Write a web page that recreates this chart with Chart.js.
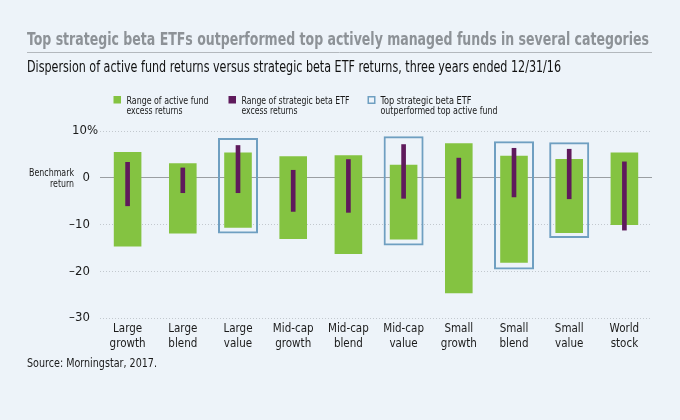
<!DOCTYPE html>
<html>
<head>
<meta charset="utf-8">
<script src="https://cdn.jsdelivr.net/npm/chart.js@4"></script>
<style>
  body { margin: 0; background: #edf3f9; }
  canvas { display: block; }
</style>
</head>
<body>
<canvas id="chart" width="680" height="420"></canvas>
<script>
const categories = [
  ["Large", "growth"], ["Large", "blend"], ["Large", "value"],
  ["Mid-cap", "growth"], ["Mid-cap", "blend"], ["Mid-cap", "value"],
  ["Small", "growth"], ["Small", "blend"], ["Small", "value"],
  ["World", "stock"],
];
// range of active fund excess returns (%)
const activeLow = [-14.7, -11.9, -10.7, -13.1, -16.3, -13.2, -24.7, -18.2, -11.8, -10.1];
const activeHigh = [5.5, 3.1, 5.4, 4.6, 4.8, 2.8, 7.4, 4.7, 4.0, 5.4];
// range of strategic beta ETF excess returns (%)
const etfLow = [-6.0, -3.2, -3.2, -7.2, -7.4, -4.4, -4.4, -4.1, -4.5, -11.2];
const etfHigh = [3.3, 2.1, 6.9, 1.6, 3.9, 7.1, 4.2, 6.3, 6.1, 3.4];
// highlight boxes: top strategic beta ETF beat top active fund
const boxLow = [null, null, -11.9, null, null, -14.5, null, -19.6, -12.9, null];
const boxHigh = [null, null, 8.5, null, null, 8.9, null, 7.8, 7.6, null];
const yTicks = [10, 0, -10, -20, -30];

const GREEN = "#84c341";
const PURPLE = "#5f1a5c";
const BOX = "#6f9fc1";
const FONT = "'Liberation Sans Narrow', 'DejaVu Sans Condensed', 'Liberation Sans', sans-serif";

const pairs = (lo, hi) => lo.map((v, i) => (v === null ? null : [v, hi[i]]));

// draw text squeezed to a given width (fonts here are wider than the original)
function fitText(ctx, text, x, y, width) {
  const w = ctx.measureText(text).width;
  const sx = Math.min(1, width / w);
  ctx.save();
  ctx.translate(x, y);
  ctx.scale(sx, 1);
  ctx.fillText(text, 0, 0);
  ctx.restore();
}

const textPlugin = {
  id: "texts",
  afterDraw: (chart) => {
    const ctx = chart.ctx;
    ctx.save();
    ctx.textBaseline = "alphabetic";
    ctx.textAlign = "left";

    // title + rule
    ctx.fillStyle = "#8d9297";
    ctx.font = "bold 17px " + FONT;
    fitText(ctx, "Top strategic beta ETFs outperformed top actively managed funds in several categories", 27, 45, 622);
    ctx.strokeStyle = "#b3b8bd";
    ctx.lineWidth = 1;
    ctx.beginPath();
    ctx.moveTo(27, 52.5);
    ctx.lineTo(652, 52.5);
    ctx.stroke();

    // subtitle
    ctx.fillStyle = "#111";
    ctx.font = "15px " + FONT;
    fitText(ctx, "Dispersion of active fund returns versus strategic beta ETF returns, three years ended 12/31/16", 27, 72, 534);

    // legend
    ctx.font = "10.5px " + FONT;
    const items = [
      { x: 113.5, kind: "fill", color: GREEN, lines: ["Range of active fund", "excess returns"], w: [82, 56] },
      { x: 228.5, kind: "fill", color: PURPLE, lines: ["Range of strategic beta ETF", "excess returns"], w: [108, 56] },
      { x: 367.5, kind: "box", color: BOX, lines: ["Top strategic beta ETF", "outperformed top active fund"], w: [91, 117] },
    ];
    items.forEach((it) => {
      if (it.kind === "fill") {
        ctx.fillStyle = it.color;
        ctx.fillRect(it.x, 96, 7.5, 7.5);
      } else {
        ctx.strokeStyle = it.color;
        ctx.lineWidth = 1.5;
        ctx.strokeRect(it.x + 0.75, 96.75, 6.5, 6.5);
      }
      ctx.fillStyle = "#1a1a1a";
      fitText(ctx, it.lines[0], it.x + 13, 103.5, it.w[0]);
      fitText(ctx, it.lines[1], it.x + 13, 114, it.w[1]);
    });

    // benchmark label next to the zero line
    const y0 = chart.scales.y.getPixelForValue(0);
    ctx.font = "10.5px " + FONT;
    fitText(ctx, "Benchmark", 29, y0 - 1.5, 45);
    ctx.textAlign = "right";
    fitText(ctx, "return", 74, y0 + 9, 24);

    // source
    ctx.textAlign = "left";
    ctx.font = "12px " + FONT;
    fitText(ctx, "Source: Morningstar, 2017.", 27, 367, 130);
    ctx.restore();
  },
};

new Chart(document.getElementById("chart"), {
  type: "bar",
  data: {
    labels: categories,
    datasets: [
      {
        label: "Top strategic beta ETF outperformed top active fund",
        data: pairs(boxLow, boxHigh),
        backgroundColor: "rgba(0,0,0,0)",
        borderColor: BOX,
        borderWidth: 2,
        borderSkipped: false,
        barPercentage: 0.725,
        categoryPercentage: 1,
        grouped: false,
        order: 3,
      },
      {
        label: "Range of active fund excess returns",
        data: pairs(activeLow, activeHigh),
        backgroundColor: GREEN,
        borderWidth: 0,
        barPercentage: 0.5,
        categoryPercentage: 1,
        grouped: false,
        order: 2,
      },
      {
        label: "Range of strategic beta ETF excess returns",
        data: pairs(etfLow, etfHigh),
        backgroundColor: PURPLE,
        borderWidth: 0,
        barThickness: 4,
        grouped: false,
        order: 1,
      },
    ],
  },
  options: {
    responsive: false,
    animation: false,
    layout: { padding: { top: 131, right: 28, bottom: 57, left: 0 } },
    plugins: {
      legend: { display: false },
      tooltip: { enabled: false },
    },
    scales: {
      x: {
        grid: { display: false },
        border: { display: false },
        ticks: {
          color: "#1a1a1a",
          font: { family: FONT, size: 11.5, lineHeight: 1.26 },
          padding: -4,
          maxRotation: 0,
          autoSkip: false,
        },
        afterFit: (scale) => { scale.height = 45; },
      },
      y: {
        min: -30,
        max: 10,
        afterBuildTicks: (scale) => { scale.ticks = yTicks.map((v) => ({ value: v })); },
        grid: {
          drawTicks: false,
          tickLength: 0,
          color: (c) => (c.tick && c.tick.value === 0 ? "#9a9ea2" : "#c2c8ce"),
          lineWidth: 1,
        },
        border: {
          display: false,
          dash: (c) => (c.tick && c.tick.value === 0 ? [] : [1, 2]),
        },
        ticks: {
          color: "#1a1a1a",
          font: { family: FONT, size: 13 },
          padding: 2,
          callback: (v) => (v === 10 ? "10%" : v === 0 ? "0\u2002\u2009" : "\u2013" + Math.abs(v) + "\u2002\u2009"),
        },
        afterFit: (scale) => { scale.width = 100; },
      },
    },
  },
  plugins: [textPlugin],
});
</script>
</body>
</html>
